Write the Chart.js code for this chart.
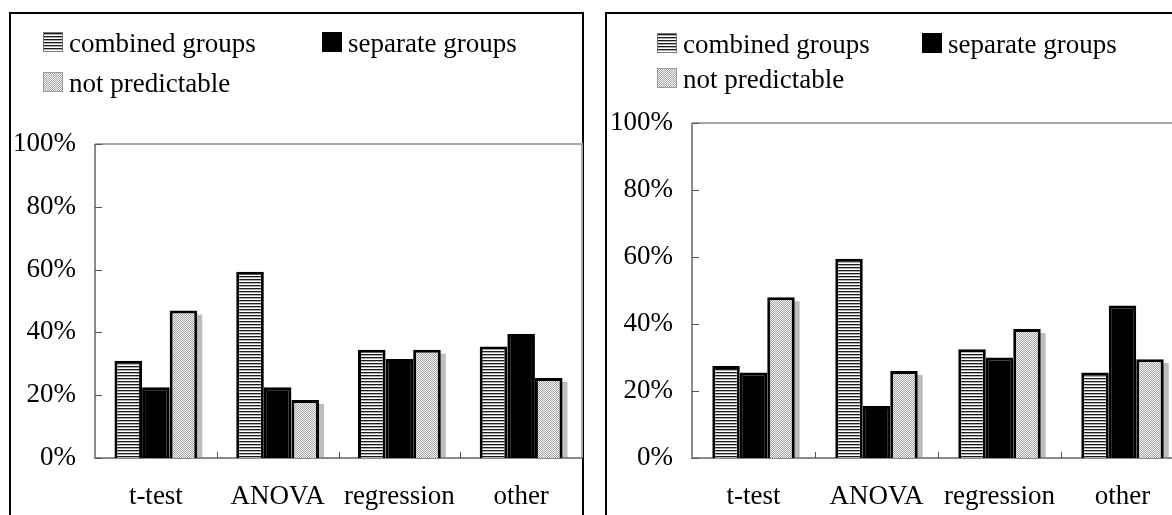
<!DOCTYPE html>
<html>
<head>
<meta charset="utf-8">
<script src="https://cdn.jsdelivr.net/npm/chart.js@4.4.1/dist/chart.umd.min.js"></script>
<style>
  html, body {
    margin: 0;
    padding: 0;
    background: #fff;
    width: 1172px;
    height: 515px;
    overflow: hidden;
    position: relative;
    font-family: "Liberation Serif", "Times New Roman", serif;
  }
  .frame {
    position: absolute;
    top: 12px;
    height: 600px;
    border: 2px solid #000;
    box-sizing: border-box;
  }
  #frameLeft { left: 9px; width: 575px; }
  #frameRight { left: 605px; width: 700px; }
  canvas { position: absolute; top: 0; }
  #leftChart { left: 0; }
  #rightChart { left: 595px; }
  .key-text {
    position: absolute;
    font-size: 27px;
    line-height: 26px;
    white-space: nowrap;
    color: #000;
  }
  .key-swatch {
    position: absolute;
    width: 20px;
    height: 20px;
    box-sizing: border-box;
  }
</style>
</head>
<body>
<div class="frame" id="frameLeft"></div>
<div class="frame" id="frameRight"></div>
<canvas id="leftChart" width="595" height="515"></canvas>
<canvas id="rightChart" width="600" height="515"></canvas>
<script>
// Two side-by-side grouped bar panels.
const CATEGORIES = ["t-test", "ANOVA", "regression", "other"];
const SERIES_NAMES = ["combined groups", "separate groups", "not predictable"];
const Y_TICK_VALUES = [0, 20, 40, 60, 80, 100];
const Y_TICK_LABELS = ["0%", "20%", "40%", "60%", "80%", "100%"];

const LEFT_COMBINED = [31, 59.3, 34.5, 35.5];
const LEFT_SEPARATE = [22.5, 22.5, 31.5, 39.5];
const LEFT_NOT_PREDICTABLE = [47, 18.5, 34.5, 25.5];

const RIGHT_COMBINED = [27.5, 59.5, 32.5, 25.5];
const RIGHT_SEPARATE = [25.5, 15.5, 30, 45.5];
const RIGHT_NOT_PREDICTABLE = [48, 26, 38.5, 29.5];

const INK = "#000";
const AXIS = "#8a8a8a";
const FRAME_LIGHT = "#a6a6a6";
const SHADOW = "#bdbdbd";
const FONT = "'Liberation Serif', 'Times New Roman', serif";

function makeTile(w, h, paint) {
  const c = document.createElement("canvas");
  c.width = w;
  c.height = h;
  paint(c.getContext("2d"));
  return c;
}

// Fine horizontal hatching and a grey stipple, as in the print original.
const stripeTile = makeTile(4, 3, (g) => {
  g.fillStyle = "#fff";
  g.fillRect(0, 0, 4, 3);
  g.fillStyle = "#1a1a1a";
  g.fillRect(0, 0, 4, 1);
  g.fillStyle = "#b0b0b0";
  g.fillRect(0, 1, 4, 1);
});
const dotTile = makeTile(2, 2, (g) => {
  g.fillStyle = "#f4f4f4";
  g.fillRect(0, 0, 2, 2);
  g.fillStyle = "#a8a8a8";
  g.fillRect(0, 0, 1, 1);
  g.fillRect(1, 1, 1, 1);
});

const plotFrame = {
  id: "plotFrame",
  beforeDatasetsDraw(chart) {
    const { ctx, chartArea: a, scales } = chart;
    ctx.save();

    // offset shadow behind the "not predictable" bars
    ctx.fillStyle = SHADOW;
    chart.getDatasetMeta(2).data.forEach((bar) => {
      const { x, y, width, base } = bar.getProps(["x", "y", "width", "base"], true);
      ctx.fillRect(x - width / 2 + 5, y + 4, width, base - y - 4);
    });

    ctx.lineWidth = 2;
    ctx.strokeStyle = FRAME_LIGHT;
    ctx.beginPath();
    ctx.moveTo(a.left, a.top);
    ctx.lineTo(a.right, a.top);
    ctx.lineTo(a.right, a.bottom);
    ctx.stroke();

    ctx.strokeStyle = AXIS;
    ctx.beginPath();
    ctx.moveTo(a.left, a.top);
    ctx.lineTo(a.left, a.bottom);
    ctx.lineTo(a.right, a.bottom);
    ctx.stroke();

    // tick marks point into the plot
    ctx.lineWidth = 1;
    ctx.strokeStyle = "#555";
    ctx.beginPath();
    scales.y.ticks.forEach((t) => {
      const py = Math.round(scales.y.getPixelForValue(t.value)) + 0.5;
      const len = Y_TICK_VALUES.includes(t.value) ? 7 : 5;
      ctx.moveTo(a.left, py);
      ctx.lineTo(a.left + len, py);
    });
    for (let i = 1; i < CATEGORIES.length; i++) {
      const px = Math.round((scales.x.getPixelForValue(i - 1) + scales.x.getPixelForValue(i)) / 2) + 0.5;
      ctx.moveTo(px, a.bottom);
      ctx.lineTo(px, a.bottom - 6);
    }
    ctx.stroke();
    ctx.restore();
  }
};

function buildPanel(canvas, series, layout) {
  const ctx = canvas.getContext("2d");
  const stripes = ctx.createPattern(stripeTile, "repeat");
  const dots = ctx.createPattern(dotTile, "repeat");
  const fills = [stripes, INK, dots];

  return new Chart(canvas, {
    type: "bar",
    data: {
      labels: CATEGORIES,
      datasets: series.map((values, i) => ({
        label: SERIES_NAMES[i],
        data: values,
        backgroundColor: fills[i],
        borderColor: INK,
        borderWidth: 3,
        categoryPercentage: layout.groupShare,
        barPercentage: 1
      }))
    },
    options: {
      responsive: false,
      animation: false,
      devicePixelRatio: 1,
      layout: { padding: { top: layout.top, right: layout.right, left: 0, bottom: 0 } },
      plugins: { legend: { display: false }, tooltip: { enabled: false } },
      scales: {
        x: {
          grid: { display: false, drawTicks: false },
          border: { display: false },
          ticks: { color: INK, font: { family: FONT, size: 27 }, padding: 23 },
          afterFit: (scale) => { scale.height = 57; }
        },
        y: {
          min: 0,
          max: 100,
          grid: { display: false, drawTicks: false },
          border: { display: false },
          ticks: {
            stepSize: 10,
            color: INK,
            padding: 19,
            font: { family: FONT, size: 27 },
            callback: (value) => {
              const k = Y_TICK_VALUES.indexOf(value);
              return k >= 0 ? Y_TICK_LABELS[k] : "";
            }
          },
          afterFit: (scale) => { scale.width = layout.axisWidth; }
        }
      }
    },
    plugins: [plotFrame]
  });
}

function addKey(rows) {
  const swatches = [
    { backgroundImage: `url(${stripeTile.toDataURL()})`, border: "1px solid #777" },
    { background: INK },
    { backgroundImage: `url(${dotTile.toDataURL()})`, border: "1px solid #999" }
  ];
  rows.forEach(({ series, x, y }) => {
    const sw = document.createElement("div");
    sw.className = "key-swatch";
    Object.assign(sw.style, swatches[series], { left: x + "px", top: y + "px" });
    document.body.appendChild(sw);

    const label = document.createElement("div");
    label.className = "key-text";
    label.textContent = SERIES_NAMES[series];
    label.style.left = x + 26 + "px";
    label.style.top = y - 2 + "px";
    document.body.appendChild(label);
  });
}

buildPanel(
  document.getElementById("leftChart"),
  [LEFT_COMBINED, LEFT_SEPARATE, LEFT_NOT_PREDICTABLE],
  { top: 144, right: 13, axisWidth: 95, groupShare: 0.68 }
);
buildPanel(
  document.getElementById("rightChart"),
  [RIGHT_COMBINED, RIGHT_SEPARATE, RIGHT_NOT_PREDICTABLE],
  { top: 123, right: 11, axisWidth: 97, groupShare: 0.67 }
);

addKey([
  { series: 0, x: 43, y: 32 },
  { series: 1, x: 322, y: 32 },
  { series: 2, x: 43, y: 72 },
  { series: 0, x: 657, y: 33 },
  { series: 1, x: 922, y: 33 },
  { series: 2, x: 657, y: 68 }
]);
</script>
</body>
</html>
